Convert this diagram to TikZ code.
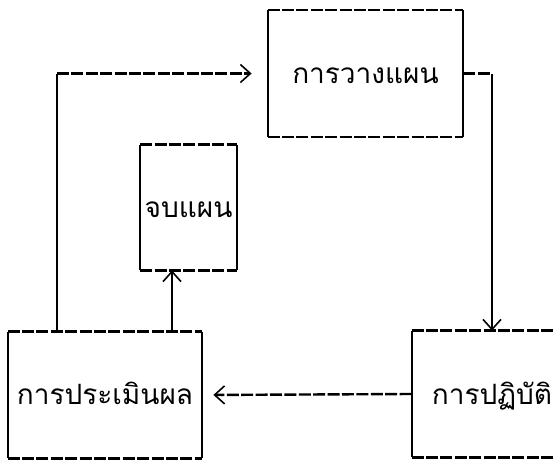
\documentclass[tikz,border=0pt]{standalone}
\usepackage{fontspec}
\newfontfamily\thaifont[Script=Thai]{Loma}
\usepackage{tikz}
\usetikzlibrary{positioning,arrows.meta}

\begin{document}
\begin{tikzpicture}[
    x=0.5pt, y=-0.5pt,
    box/.style={minimum width=#1, minimum height=63pt, inner sep=2pt,
                text height=13pt, text depth=3pt,
                font=\thaifont\fontsize{14}{16}\selectfont},
    box/.default={97.5pt},
    hline/.style={dash pattern=on 6pt off 1.2pt, line width=1.2pt},
    vline/.style={line width=1pt},
    tip/.style={-{Straight Barb[length=5pt, width=9pt, line width=0.8pt]}},
]
\useasboundingbox (0,0) rectangle (554,461);

% ===== Stages =====
\node[box]                               (plan)     at (365.5, 73.5) {การวางแผน};
\node[box=47.5pt, minimum height=62.5pt] (finish)   at (188.5,207.5) {จบแผน};
\node[box=97pt]                          (evaluate) at (105,  395)   {การประเมินผล};
\node[box=80pt]                          (execute)  at (492,  394)   {การปฏิบัติ};

% ===== Box outlines: typed dashes across, bars down =====
\foreach \n in {plan,finish,evaluate,execute} {
    \draw[hline] (\n.north west) -- (\n.north east) (\n.south west) -- (\n.south east);
    \draw[vline] (\n.north west) -- (\n.south west) (\n.north east) -- (\n.south east);
}

% ===== Corners of the cycle =====
\coordinate (rc) at (plan.east -| execute.north);
\coordinate (lc) at ([xshift=-24pt]evaluate.north |- plan.west);

% ===== Cycle =====
\draw[hline] (plan.east) -- (rc);
\draw[vline, tip] (rc) -- (execute.north);
\draw[hline, tip, shorten >=5.5pt] (execute.west) -- (evaluate.east);
\draw[vline] ([xshift=-24pt]evaluate.north) -- (lc);
\draw[hline, tip, shorten >=8pt] (lc) -- (plan.west);

% ===== Exit =====
\draw[vline, tip] ([xshift=33.5pt]evaluate.north) -- ([xshift=33.5pt]evaluate.north |- finish.south);

\end{tikzpicture}
\end{document}
